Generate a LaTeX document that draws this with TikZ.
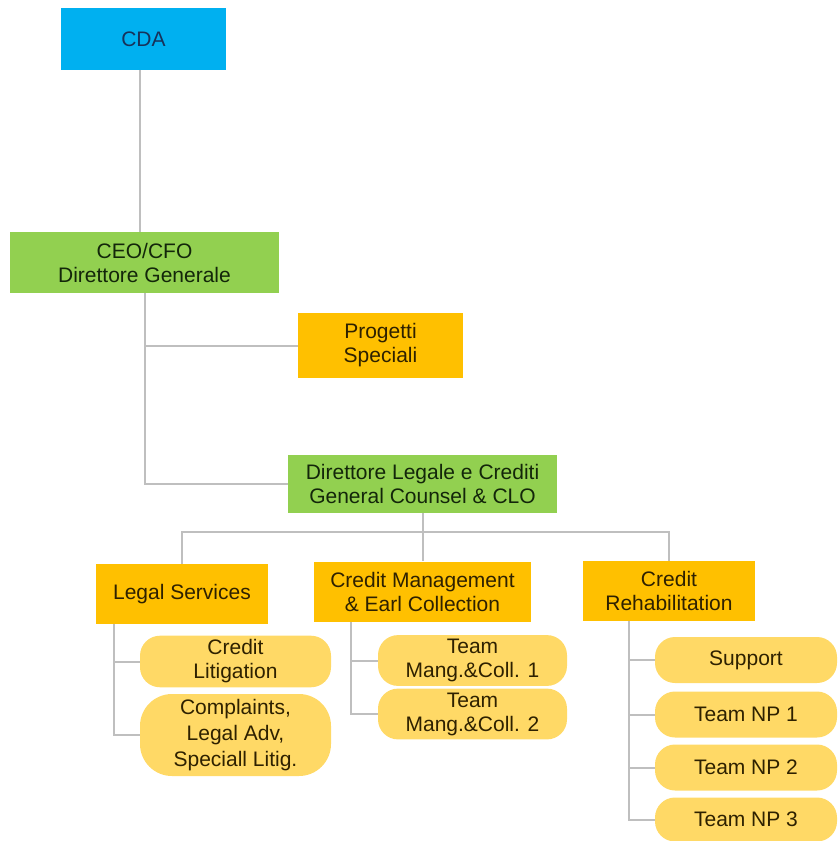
\documentclass[tikz,border=0pt]{standalone}
\usepackage{fontspec}
\setmainfont{Liberation Sans}
\usetikzlibrary{positioning}
\definecolor{cdablue}{HTML}{00B0F0}
\definecolor{dirgreen}{HTML}{92D050}
\definecolor{unitorange}{HTML}{FFC000}
\definecolor{teamyellow}{HTML}{FFD966}
\definecolor{linkgray}{HTML}{BFBFBF}
\definecolor{navytext}{HTML}{17325A}
\definecolor{greentext}{HTML}{13260A}
\definecolor{browntext}{HTML}{2E2100}
\tikzset{
  box/.style = {rectangle, align=center, inner sep=2pt,
                font=\fontsize{10.5}{12}\selectfont},
  board/.style = {box, fill=cdablue, text=navytext},
  head/.style = {box, fill=dirgreen, text=greentext},
  unit/.style = {box, fill=unitorange, text=browntext},
  pill/.style = {box, fill=teamyellow, text=browntext, rounded corners=10pt},
  link/.style = {draw=linkgray, line width=1pt}
}
\begin{document}
\begin{tikzpicture}[x=0.5pt, y=-0.5pt]
	\useasboundingbox (0,0) rectangle (838,841);
	% top levels
	\node [board, minimum width=82.5pt, minimum height=31pt] (cda) at (143.5,39) {CDA};
	\node [head, minimum width=134.5pt, minimum height=30.5pt] (ceo) at (144.5,262.5) {CEO/CFO\\Direttore Generale};
	\node [unit, minimum width=82.5pt, minimum height=32.5pt] (prog) at (380.5,345.5) {Progetti\\Speciali};
	\node [head, minimum width=134.5pt, minimum height=29pt] (dir) at (422.5,484) {Direttore Legale e Crediti\\General Counsel \& CLO};
	% units
	\node [unit, minimum width=86pt, minimum height=30pt] (legal) at (182,594) {Legal Services};
	\node [unit, minimum width=108.5pt, minimum height=30pt] (cm) at (422.5,591.5) {Credit Management\\\& Earl Collection};
	\node [unit, minimum width=86pt, minimum height=30pt] (cr) at (669,591) {Credit\\Rehabilitation};
	% teams
	\node [pill, minimum width=95.5pt, minimum height=23.5pt] (lit) at (235.5,661.5) {Credit\\Litigation};
	\node [pill, minimum width=95.5pt, minimum height=41pt, rounded corners=16pt,
	       font=\fontsize{10.5}{13}\selectfont] (comp) at (235.5,735) {Complaints,\\Legal Adv,\\Speciall Litig.};
	\node [pill, minimum width=94.5pt, minimum height=23.5pt] (t1) at (472.5,660.5) {Team\\Mang.\&Coll. 1};
	\node [pill, minimum width=94.5pt, minimum height=23pt] (t2) at (472.5,714) {Team\\Mang.\&Coll. 2};
	\node [pill, minimum width=91pt, minimum height=23pt] (sup) at (746,660) {Support};
	\node [pill, minimum width=91pt, minimum height=23pt] (np1) at (746,714.5) {Team NP 1};
	\node [pill, minimum width=91pt, minimum height=23pt] (np2) at (746,767.5) {Team NP 2};
	\node [pill, minimum width=91pt, minimum height=22pt] (np3) at (746,819.5) {Team NP 3};
	% connectors
	\draw [link] ([xshift=-1.75pt]cda.south) -- ([xshift=-2.25pt]ceo.north);
	\draw [link] (ceo.south) |- (prog.west);
	\draw [link] (ceo.south) |- (dir.west);
	\coordinate (bus) at (422.5,532);
	\draw [link] (dir.south) -- (cm.north);
	\draw [link] (legal.north) |- (bus) -| (cr.north);
	\draw [link] ([xshift=9pt]legal.south west) |- (lit.west);
	\draw [link] ([xshift=9pt]legal.south west) |- (comp.west);
	\draw [link] ([xshift=18.5pt]cm.south west) |- (t1.west);
	\draw [link] ([xshift=18.5pt]cm.south west) |- (t2.west);
	\foreach \t in {sup, np1, np2, np3}
		\draw [link] ([xshift=23pt]cr.south west) |- (\t.west);
\end{tikzpicture}
\end{document}
